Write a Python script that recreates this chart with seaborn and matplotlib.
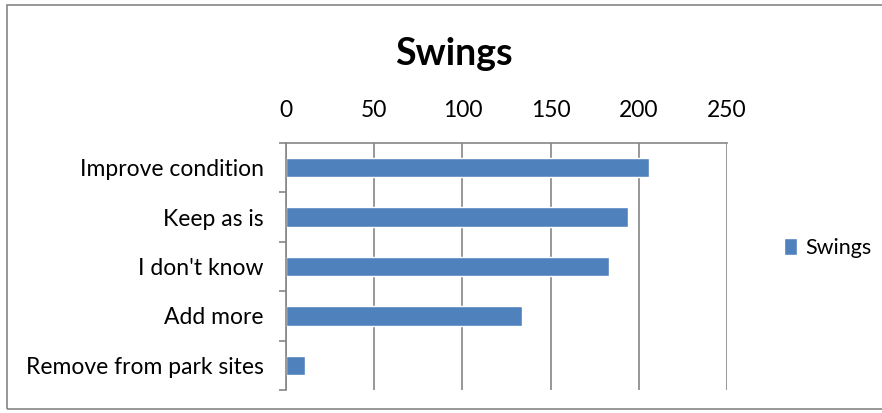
import pandas as pd
import seaborn as sns
import matplotlib.pyplot as plt
from matplotlib.patches import Rectangle
from matplotlib.ticker import FixedLocator

categories = ['Improve condition', 'Keep as is', "I don't know", 'Add more', 'Remove from park sites']
values = [206, 194, 183, 134, 11]
series = 'Swings'
xticks = [0, 50, 100, 150, 200, 250]

sns.set_style('white')
plt.rcParams['font.family'] = ['Lato', 'DejaVu Sans']
plt.rcParams['text.color'] = 'black'

df = pd.DataFrame({'kategori': categories, 'antall': values, 'serie': series})

fig = plt.figure(figsize=(8.82, 4.13), dpi=100)
ax = fig.add_axes([286/882, 1 - 390/413, 441/882, (390 - 143)/413])

sns.barplot(data=df, x='antall', y='kategori', hue='serie', orient='h',
            palette=['#4F81BD'], width=0.39, saturation=1, ax=ax, legend=True)

ax.set_xlim(0, 250)
ax.set_ylim(len(categories) - 0.5, -0.5)
ax.xaxis.tick_top()
ax.set_xticks(xticks)
ax.set_xlabel('')
ax.set_ylabel('')
ax.grid(axis='x', color='#868686', linewidth=1.2)
ax.set_axisbelow(True)
for s in ['right', 'bottom']:
    ax.spines[s].set_visible(False)
for s in ['top', 'left']:
    ax.spines[s].set_color('#868686')
    ax.spines[s].set_linewidth(1.2)

ax.tick_params(axis='x', length=0, pad=16, labelsize=16.5, colors='black')
ax.tick_params(axis='y', which='major', length=0, pad=16, labelsize=16.5, colors='black')
ax.yaxis.set_minor_locator(FixedLocator([i - 0.5 for i in range(len(categories) + 1)]))
ax.tick_params(axis='y', which='minor', length=5, width=1.2, color='#868686', left=True)

fig.text(454/882, 1 - 54/413, 'Swings', ha='center', va='center',
         fontsize=27, fontweight='bold')

ax.legend(loc='center left', bbox_to_anchor=(784/882, 1 - 248/413),
          bbox_transform=fig.transFigure, frameon=False, fontsize=15.5,
          borderpad=0, borderaxespad=0,
          handlelength=0.62, handleheight=0.85, handletextpad=0.35)

fig.patches.append(Rectangle((7/882, 4/413), 1.0, 404/413, transform=fig.transFigure,
                             fill=False, edgecolor='#868686', linewidth=1.2))

fig.savefig('out.png', dpi=100)
